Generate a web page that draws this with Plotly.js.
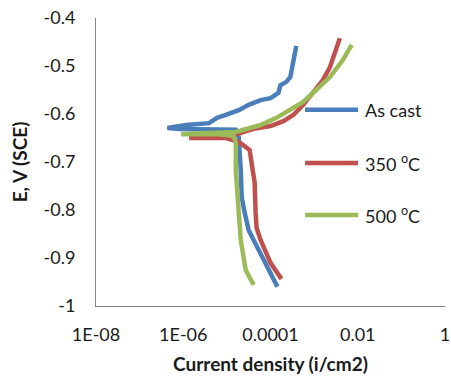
<!DOCTYPE html>
<html>
<head>
<meta charset="utf-8">
<script src="https://cdn.plot.ly/plotly-3.0.1.min.js"></script>
<style>html,body{margin:0;padding:0;background:#fff;}#chart{width:451px;height:381px;}</style>
</head>
<body>
<div id="chart"></div>
<script>
// Series names
const seriesNames = ["As cast", "350 <sup>o</sup>C", "500 <sup>o</sup>C"];
const seriesColors = ["#4A7EBB", "#C0504D", "#9BBB59"];

// As cast: current density (A/cm2) and potential (V vs SCE)
const asCastI = [1.44e-4, 7.69e-5, 4.81e-5, 3.16e-5, 2.56e-5, 2.19e-5, 2.08e-5, 1.97e-5, 1.87e-5, 1.60e-5, 6.58e-6, 2.31e-6, 8.11e-7, 4.33e-7,
                 1.17e-6, 3.90e-6, 5.93e-6, 9.48e-6, 1.87e-5, 3.16e-5, 5.93e-5, 1.0e-4, 1.52e-4, 1.69e-4, 2.31e-4, 2.85e-4, 3.16e-4, 3.70e-4, 3.90e-4];
const asCastE = [-0.960, -0.910, -0.877, -0.842, -0.806, -0.773, -0.717, -0.675, -0.648, -0.633, -0.633, -0.631, -0.631, -0.629,
                 -0.623, -0.619, -0.608, -0.602, -0.592, -0.581, -0.571, -0.567, -0.556, -0.540, -0.533, -0.523, -0.502, -0.481, -0.458];

// 350 oC
const t350I = [1.78e-4, 1.0e-4, 5.93e-5, 4.81e-5, 4.56e-5, 4.56e-5, 4.33e-5, 3.90e-5, 3.70e-5, 3.33e-5, 1.87e-5, 9.48e-6, 3.0e-6, 1.37e-6,
               3.0e-6, 1.44e-5, 4.11e-5, 1.0e-4, 1.97e-4, 3.33e-4, 5.62e-4, 9.48e-4, 1.60e-3, 2.31e-3, 3.16e-3, 3.90e-3];
const t350E = [-0.944, -0.910, -0.8625, -0.8375, -0.806, -0.769, -0.742, -0.717, -0.696, -0.675, -0.658, -0.650, -0.650, -0.650,
               -0.646, -0.644, -0.631, -0.625, -0.615, -0.602, -0.581, -0.556, -0.529, -0.502, -0.467, -0.442];

// 500 oC
const t500I = [4.11e-5, 2.70e-5, 2.08e-5, 1.87e-5, 1.69e-5, 1.60e-5, 1.60e-5, 1.44e-5, 6.58e-6, 2.31e-6, 9.0e-7,
               2.31e-6, 1.60e-5, 4.11e-5, 5.93e-5, 1.37e-4, 2.85e-4, 5.62e-4, 1.11e-3, 2.31e-3, 4.56e-3, 7.31e-3];
const t500E = [-0.956, -0.925, -0.8625, -0.810, -0.773, -0.717, -0.660, -0.646, -0.642, -0.642, -0.642,
               -0.640, -0.6375, -0.627, -0.623, -0.608, -0.592, -0.575, -0.550, -0.523, -0.4875, -0.456];

// Axis ticks
const xTickVals = [1e-8, 1e-6, 1e-4, 1e-2, 1];
const xTickText = ["1E-08", "1E-06", "0.0001", "0.01", "1"];
const yTickVals = [-0.4, -0.5, -0.6, -0.7, -0.8, -0.9, -1];
const yTickText = ["-0.4", "-0.5", "-0.6", "-0.7", "-0.8", "-0.9", "-1"];

const xs = [asCastI, t350I, t500I];
const ys = [asCastE, t350E, t500E];

const traces = xs.map((x, k) => ({
  x: x, y: ys[k], type: "scatter", mode: "lines", name: seriesNames[k],
  line: {color: seriesColors[k], width: 4.5}, showlegend: false
}));

// Custom legend entries (paper coordinates)
const legendY = [0.681, 0.4965, 0.316];
const shapes = seriesNames.map((n, k) => ({
  type: "line", xref: "paper", yref: "paper", x0: 0.599, x1: 0.751, y0: legendY[k], y1: legendY[k],
  line: {color: seriesColors[k], width: 4.5}
}));
const annotations = seriesNames.map((n, k) => ({
  xref: "paper", yref: "paper", x: 0.764, y: legendY[k], xanchor: "left", yanchor: "middle",
  text: n, showarrow: false, font: {family: "Lato, sans-serif", size: 18, color: "#1a1a1a"}
}));

const layout = {
  width: 451, height: 381,
  margin: {l: 96, r: 6, t: 18, b: 75},
  paper_bgcolor: "#ffffff", plot_bgcolor: "#ffffff",
  font: {family: "Lato, sans-serif", size: 18, color: "#1a1a1a"},
  xaxis: {
    type: "log", range: [-8, 0.0002], tickvals: xTickVals, ticktext: xTickText,
    showgrid: false, zeroline: false, showline: true, linecolor: "#868686", linewidth: 1,
    ticks: "", ticklabelstandoff: 12, ticklabeloverflow: "allow",
    title: {text: "<b>Current density (i/cm2)</b>", font: {size: 19, family: "Lato, sans-serif", color: "#1a1a1a"}, standoff: 14}
  },
  yaxis: {
    range: [-1, -0.4], tickvals: yTickVals, ticktext: yTickText,
    showgrid: false, zeroline: false, showline: true, linecolor: "#868686", linewidth: 1,
    ticks: "", ticklabelstandoff: 16,
    title: {text: "<b>E, V (SCE)</b>", font: {size: 19, family: "Lato, sans-serif", color: "#1a1a1a"}, standoff: 10}
  },
  shapes: shapes,
  annotations: annotations
};

Plotly.newPlot("chart", traces, layout, {displayModeBar: false, staticPlot: true});
</script>
</body>
</html>
